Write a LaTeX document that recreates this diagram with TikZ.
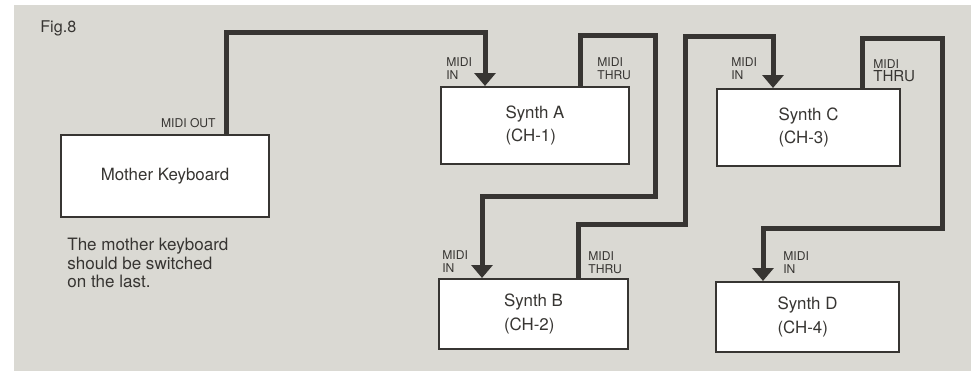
\documentclass[tikz,border=0pt]{standalone}
\usepackage{fontspec}
\setmainfont{TeX Gyre Heros}
\usetikzlibrary{arrows.meta}
\definecolor{paper}{RGB}{218,217,211}
\definecolor{ink}{RGB}{55,53,50}
\tikzset{
  box/.style={draw=ink, line width=0.04cm, fill=white, inner sep=0pt, align=left,
    text=ink, font=\fontsize{9.6}{13.6}\selectfont},
  wire/.style={draw=ink, line width=0.1cm, -{Triangle[width=0.42cm,length=0.26cm]}},
  port/.style={inner sep=0pt, anchor=west, align=left, text=ink,
    font=\fontsize{6.9}{7.4}\selectfont},
}
\begin{document}
\begin{tikzpicture}[x=0.02cm, y=-0.02cm]
      \useasboundingbox (0,0) rectangle (971,371);
      \fill[white] (0,0) rectangle (971,371);
      \fill[paper] (14,5) rectangle (971,371);
      \node[anchor=west, inner sep=0pt, text=ink, font=\fontsize{9.2}{11}\selectfont] (fig) at (40,28) {Fig.8};
      \node[box, minimum width=4.16cm, minimum height=1.64cm] (kbd) at (165,176) {Mother Keyboard};
      \node[box, minimum width=3.76cm, minimum height=1.54cm] (synA) at (535,125.5) {Synth A\\(CH-1)};
      \node[box, minimum width=3.78cm, minimum height=1.40cm] (synB) at (533.5,314) {Synth B\\(CH-2)};
      \node[box, minimum width=3.66cm, minimum height=1.54cm] (synC) at (808.5,127.5) {Synth C\\(CH-3)};
      \node[box, minimum width=3.66cm, minimum height=1.40cm] (synD) at (807.5,317) {Synth D\\(CH-4)};
      \node[anchor=west, inner sep=0pt, align=left, text=ink, font=\fontsize{9.7}{10.5}\selectfont] (note) at (67,263)
        {The mother keyboard\\should be switched\\on the last.};
      \node[port, anchor=east] (kbdout) at (216,123) {MIDI OUT};
      \node[port] (synAin) at (446,68.5) {MIDI\\IN};
      \node[port] (synAthru) at (597,68.5) {MIDI\\THRU};
      \node[port] (synBin) at (442,261.5) {MIDI\\IN};
      \node[port] (synBthru) at (588,262.5) {MIDI\\THRU};
      \node[port] (synCin) at (731,68.5) {MIDI\\IN};
      \node[port] (synCthru) at (873,70.5) {MIDI\\{\fontsize{8.6}{9}\selectfont THRU}};
      \node[port] (synDin) at (783,262.5) {MIDI\\IN};
      \begin{scope}[wire]
        \draw (kbd.north -| 226,0) |- (485,33) -- (synA.north -| 485,0);
        \draw (synA.north -| 580,0) |- (655,36) |- (482,197) -- (synB.north -| 482,0);
        \draw (synB.north -| 578,0) |- (685,225) |- (773,37) -- (synC.north -| 773,0);
        \draw (synC.north -| 862,0) |- (942,39) |- (763,229) -- (synD.north -| 763,0);
      \end{scope}
    \end{tikzpicture}
\end{document}
